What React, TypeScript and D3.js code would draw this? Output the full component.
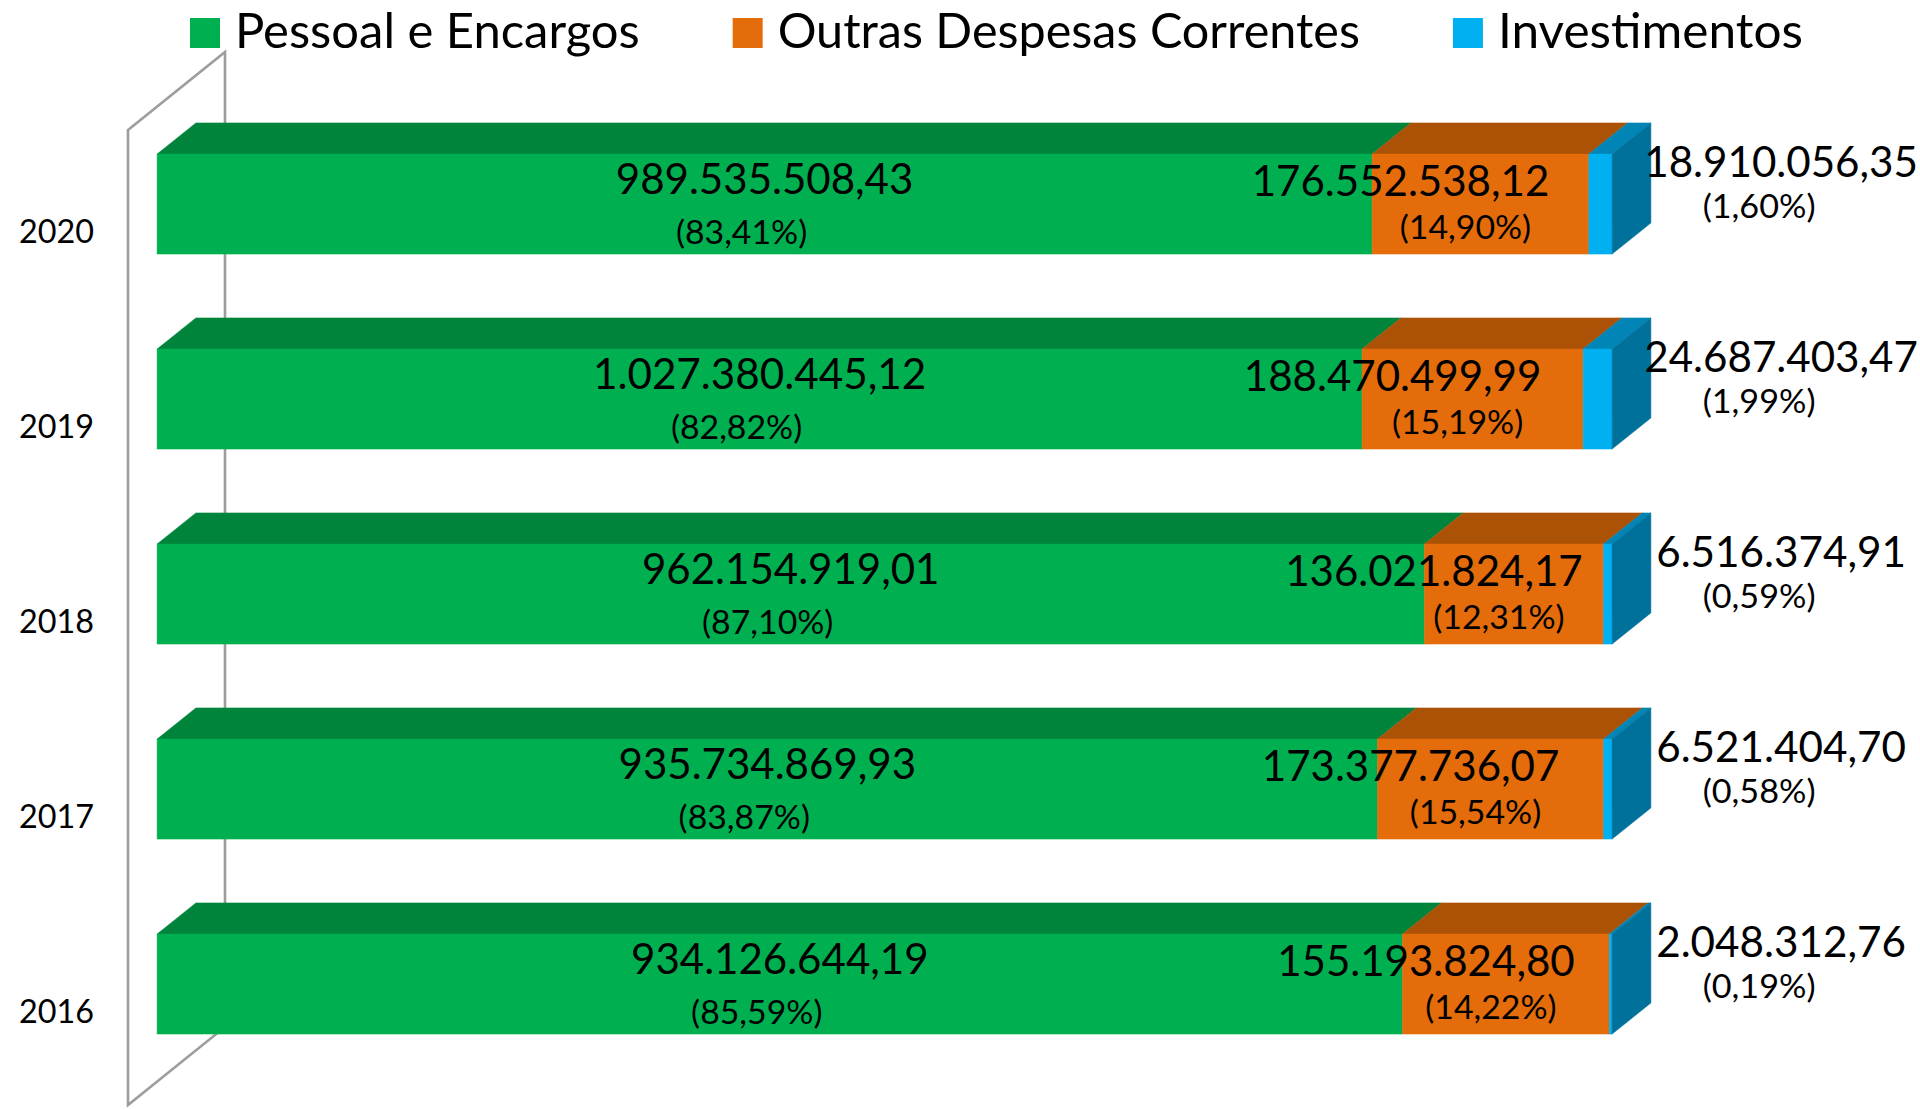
import React, { useRef, useEffect } from "react";
import * as d3 from "d3";

// anos (de cima para baixo)
const years = ["2020", "2019", "2018", "2017", "2016"];
const seriesNames = ["Pessoal e Encargos", "Outras Despesas Correntes", "Investimentos"];
const pessoal = [989535508.43, 1027380445.12, 962154919.01, 935734869.93, 934126644.19];
const outras = [176552538.12, 188470499.99, 136021824.17, 173377736.07, 155193824.8];
const investimentos = [18910056.35, 24687403.47, 6516374.91, 6521404.7, 2048312.76];
// percentuais como impressos no gráfico
const pctPessoal = [83.41, 82.82, 87.1, 83.87, 85.59];
const pctOutras = [14.9, 15.19, 12.31, 15.54, 14.22];
const pctInvest = [1.6, 1.99, 0.59, 0.58, 0.19];

const FRONT = ["#00B050", "#E46C0A", "#00B0F0"];
const TOP = ["#00843C", "#AC5207", "#0085B6"];
const SIDE = "#00719B";
const WALL = "#9d9d9d";

const W = 1920;
const H = 1109;
// projeção oblíqua: profundidade z em [0,1]
const DX = 97;
const DY = -78;
const Z0 = 0.3;
const Z1 = 0.7;

// larguras de caractere (em) aproximadas, para reproduzir a largura do texto original
const CW: Record<string, number> = {
  ".": 0.252, ",": 0.25, "(": 0.303, ")": 0.303, "%": 0.715, " ": 0.226,
  P: 0.517, e: 0.498, s: 0.391, o: 0.527, a: 0.479, l: 0.229, E: 0.488, n: 0.525,
  c: 0.423, r: 0.349, g: 0.471, O: 0.662, u: 0.525, t: 0.335, D: 0.615, p: 0.525,
  C: 0.533, I: 0.252, v: 0.452, i: 0.229, m: 0.799,
};
const textWidth = (s: string, size: number) =>
  s.split("").reduce((acc, ch) => acc + (/[0-9]/.test(ch) ? 0.507 : CW[ch] ?? 0.5), 0) * size;

const FONT = "Lato, 'Open Sans', sans-serif";
const SIZE_VALUE = 47;
const SIZE_PCT = 36.5;
const SIZE_CAT = 37;
const SIZE_LEGEND = 53;

// posição dos rótulos em relação à face frontal do segmento
const LABEL_POS = [
  { vx: 0, vy: 40, px: -23, py: 90, outside: false },
  { vx: -80, vy: 42, px: -15, py: 85, outside: false },
  { vx: 169, vy: 23, px: 147, py: 64, outside: true },
];

const br = d3.formatLocale({ decimal: ",", thousands: ".", grouping: [3], currency: ["R$", ""] });
const fmtValue = br.format(",.2f");
const fmtPct = br.format(".2f");

export default function App() {
  const ref = useRef<SVGSVGElement>(null);

  useEffect(() => {
    const svg = d3.select(ref.current);
    svg.selectAll("*").remove();

    const x = d3.scaleLinear().domain([0, 1]).range([128, 1583]);
    const y = d3.scaleBand().domain(years).range([130, 1105]).paddingInner(0.487).paddingOuter(0.2435);
    const proj = (px: number, py: number, z: number): [number, number] => [px + z * DX, py + z * DY];
    const poly = (pts: [number, number][]) => "M" + pts.map((p) => p.join(",")).join("L") + "Z";

    const addText = (
      g: d3.Selection<any, any, any, any>,
      str: string,
      cx: number,
      baseline: number,
      size: number,
      anchor: string
    ) => {
      g.append("text")
        .attr("x", cx)
        .attr("y", baseline)
        .attr("text-anchor", anchor)
        .attr("font-family", FONT)
        .attr("font-size", size * 0.9)
        .attr("fill", "#000")
        .attr("textLength", textWidth(str, size))
        .attr("lengthAdjust", "spacingAndGlyphs")
        .text(str);
    };

    // parede lateral (eixo de categorias)
    const wall = svg.append("g").attr("fill", "none").attr("stroke", WALL).attr("stroke-width", 2.6);
    const [r0, r1] = y.range();
    const corners: [number, number][] = [
      proj(x(0), r0, 0),
      proj(x(0), r0, 1),
      proj(x(0), r1, 1),
      proj(x(0), r1, 0),
    ];
    wall.append("path").attr("d", poly(corners)).attr("stroke-linejoin", "miter");

    // rótulos das categorias
    const cats = svg.append("g");
    years.forEach((yr) => {
      addText(cats, yr, 94, (y(yr) as number) + y.bandwidth() / 2 + 15, SIZE_CAT, "end");
    });

    // barras 3D empilhadas 100%
    const bars = svg.append("g");
    const labels = svg.append("g");
    const seriesValues = [pessoal, outras, investimentos];
    const seriesPct = [pctPessoal, pctOutras, pctInvest];

    years.forEach((yr, i) => {
      const vals = seriesValues.map((s) => s[i]);
      const total = d3.sum(vals);
      const yTop = y(yr) as number;
      const yBot = yTop + y.bandwidth();
      let cum = 0;
      vals.forEach((v, j) => {
        const a = x(cum / total);
        const b = x((cum + v) / total);
        cum += v;
        // face superior
        bars.append("path")
          .attr("d", poly([proj(a, yTop, Z0), proj(b, yTop, Z0), proj(b, yTop, Z1), proj(a, yTop, Z1)]))
          .attr("fill", TOP[j])
          .attr("stroke", TOP[j])
          .attr("stroke-width", 0.5);
        // face frontal
        bars.append("path")
          .attr("d", poly([proj(a, yTop, Z0), proj(b, yTop, Z0), proj(b, yBot, Z0), proj(a, yBot, Z0)]))
          .attr("fill", FRONT[j])
          .attr("stroke", FRONT[j])
          .attr("stroke-width", 0.5);

        // rótulos
        const [fa, fTop] = proj(a, yTop, Z0);
        const [fb] = proj(b, yTop, Z0);
        const L = LABEL_POS[j];
        const base = L.outside ? fb : (fa + fb) / 2;
        addText(labels, fmtValue(v), base + L.vx, fTop + L.vy, SIZE_VALUE, "middle");
        addText(labels, `(${fmtPct(seriesPct[j][i])}%)`, base + L.px, fTop + L.py, SIZE_PCT, "middle");
      });
      // face lateral direita
      const xe = x(1);
      bars.append("path")
        .attr("d", poly([proj(xe, yTop, Z0), proj(xe, yTop, Z1), proj(xe, yBot, Z1), proj(xe, yBot, Z0)]))
        .attr("fill", SIDE)
        .attr("stroke", SIDE)
        .attr("stroke-width", 0.5);
    });
    labels.raise();

    // legenda
    const legend = svg.append("g");
    let lx = 190;
    seriesNames.forEach((name, j) => {
      legend.append("rect").attr("x", lx).attr("y", 18).attr("width", 30).attr("height", 30).attr("fill", FRONT[j]);
      addText(legend, name, lx + 45, 48, SIZE_LEGEND, "start");
      lx += 45 + textWidth(name, SIZE_LEGEND) + 93;
    });
  }, []);

  return (
    <svg
      ref={ref}
      width={W}
      height={H}
      style={{ position: "absolute", left: 0, top: 0, background: "#fff" }}
    />
  );
}
